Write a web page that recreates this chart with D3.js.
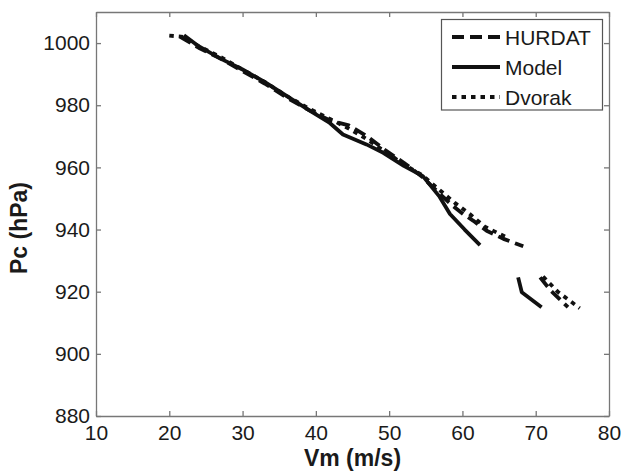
<!DOCTYPE html>
<html>
<head>
<meta charset="utf-8">
<script src="https://cdn.jsdelivr.net/npm/d3@7"></script>
<style>
  body { margin: 0; background: #fff; }
  text { font-family: "Liberation Sans", Arial, sans-serif; fill: #1a1a1a; }
</style>
</head>
<body>
<script>
var w = 621; // Width of the page
var h = 472; // Height of the page
var margin = {left: 96, right: 12, top: 12, bottom: 56};

// Tick values
var xTicks = [10, 20, 30, 40, 50, 60, 70, 80];
var yTicks = [880, 900, 920, 940, 960, 980, 1000];

// Series: [Vm, Pc], null marks a gap in the track
var hurdat = [[21.5, 1002], [24, 998.5], [27, 995], [30, 991], [33, 987], [36, 982.5], [39, 978.5],
  [42, 975], [44.5, 973.5], [47, 970], [49.5, 965.5], [52, 961.5], [54.5, 957], [56.9, 951.5],
  [58.7, 947.6], [60.1, 945], [61.5, 942.8], [63.3, 939.6], [65.6, 937], [68.3, 934.6], null,
  [70.6, 924.6], [72, 920.5], [74.4, 915]];
var model = [[22, 1002.5], [24, 999], [27, 995], [30, 991.5], [33, 987.5], [36, 983], [39, 978.5],
  [41.9, 974.3], [43.7, 970.6], [46.9, 967.4], [49.2, 964.7], [52, 960.5], [54.6, 957.2],
  [56.9, 950.5], [58.3, 945], [60.3, 940], [62.4, 935], null,
  [67.6, 924.6], [68.1, 919.8], [70.8, 915]];
var dvorak = [[20, 1002.4], [22, 1002], [24, 999], [27, 995.5], [30, 991.5], [33, 987.5], [36, 983],
  [39, 979], [42, 975.5], [44.5, 972.5], [47, 969], [49.5, 965], [52, 961], [54.5, 957.5],
  [57, 952.5], [59, 948.5], [61, 945], [63, 941], [66, 937.5], null,
  [71, 924.9], [73, 920], [76, 914.7]];

var seriesNames = ["HURDAT", "Model", "Dvorak"];
var seriesData = [hurdat, model, dvorak];
var dashes = ["12,6", null, "4.5,5"];

// Scales
var xScale = d3.scaleLinear()
    .domain([10, 80])
    .range([margin.left, w - margin.right]);

var yScale = d3.scaleLinear()
    .domain([880, 1010])
    .range([h - margin.bottom, margin.top]);

var svg = d3.select("body")
    .append("svg")
    .attr("width", w)
    .attr("height", h);

var x0 = xScale.range()[0], x1 = xScale.range()[1];
var y0 = yScale.range()[0], y1 = yScale.range()[1];

// Axes (ticks point inward, mirrored on top and right)
svg.append("g")
    .attr("class", "x-axis")
    .attr("transform", "translate(0," + y0 + ")")
    .call(d3.axisBottom(xScale).tickValues(xTicks).tickFormat(d3.format("d"))
      .tickSizeInner(-5).tickSizeOuter(0).tickPadding(9));

svg.append("g")
    .attr("class", "y-axis")
    .attr("transform", "translate(" + x0 + ",0)")
    .call(d3.axisLeft(yScale).tickValues(yTicks).tickFormat(d3.format("d"))
      .tickSizeInner(-5).tickSizeOuter(0).tickPadding(6));

svg.append("g")
    .attr("class", "x-top")
    .attr("transform", "translate(0," + y1 + ")")
    .call(d3.axisTop(xScale).tickValues(xTicks).tickSizeInner(-5).tickSizeOuter(0).tickFormat(""));

svg.append("g")
    .attr("class", "y-right")
    .attr("transform", "translate(" + x1 + ",0)")
    .call(d3.axisRight(yScale).tickValues(yTicks).tickSizeInner(-5).tickSizeOuter(0).tickFormat(""));

svg.selectAll(".domain, .tick line")
    .attr("stroke", "#777")
    .attr("stroke-width", 1.3);

svg.selectAll(".x-axis text, .y-axis text")
    .style("font-size", "21px")
    .attr("fill", "#1a1a1a");

svg.selectAll(".x-axis text").attr("dy", "0.72em");

// Data lines
var line = d3.line()
    .defined(function(d) { return d !== null; })
    .x(function(d) { return xScale(d[0]); })
    .y(function(d) { return yScale(d[1]); });

svg.selectAll(".series")
    .data(seriesData)
    .join("path")
    .attr("class", "series")
    .attr("d", line)
    .attr("fill", "none")
    .attr("stroke", "#111")
    .attr("stroke-width", 3.8)
    .attr("stroke-linejoin", "round")
    .attr("stroke-dasharray", function(d, i) { return dashes[i]; });

// Axis labels
svg.append("text")
    .attr("class", "x-label")
    .attr("text-anchor", "middle")
    .attr("x", (x0 + x1) / 2)
    .attr("y", 466)
    .style("font-size", "23px")
    .style("font-weight", "bold")
    .text("Vm (m/s)");

svg.append("text")
    .attr("class", "y-label")
    .attr("text-anchor", "middle")
    .attr("transform", "translate(27,228) rotate(-90)")
    .style("font-size", "23px")
    .style("font-weight", "bold")
    .text("Pc (hPa)");

// Legend
var legend = svg.append("g").attr("class", "legend");
legend.append("rect")
    .attr("x", 441.5)
    .attr("y", 19.5)
    .attr("width", 161)
    .attr("height", 90.5)
    .attr("fill", "#fff")
    .attr("stroke", "#555")
    .attr("stroke-width", 1.2);

var rows = legend.selectAll(".row")
    .data(seriesNames)
    .join("g")
    .attr("class", "row")
    .attr("transform", function(d, i) { return "translate(0," + (37 + i * 30) + ")"; });

rows.append("line")
    .attr("x1", 452)
    .attr("x2", 500)
    .attr("stroke", "#111")
    .attr("stroke-width", 3.8)
    .attr("stroke-dasharray", function(d, i) { return dashes[i]; });

rows.append("text")
    .attr("x", 505)
    .attr("dy", "0.36em")
    .style("font-size", "21px")
    .text(function(d) { return d; });
</script>
</body>
</html>
